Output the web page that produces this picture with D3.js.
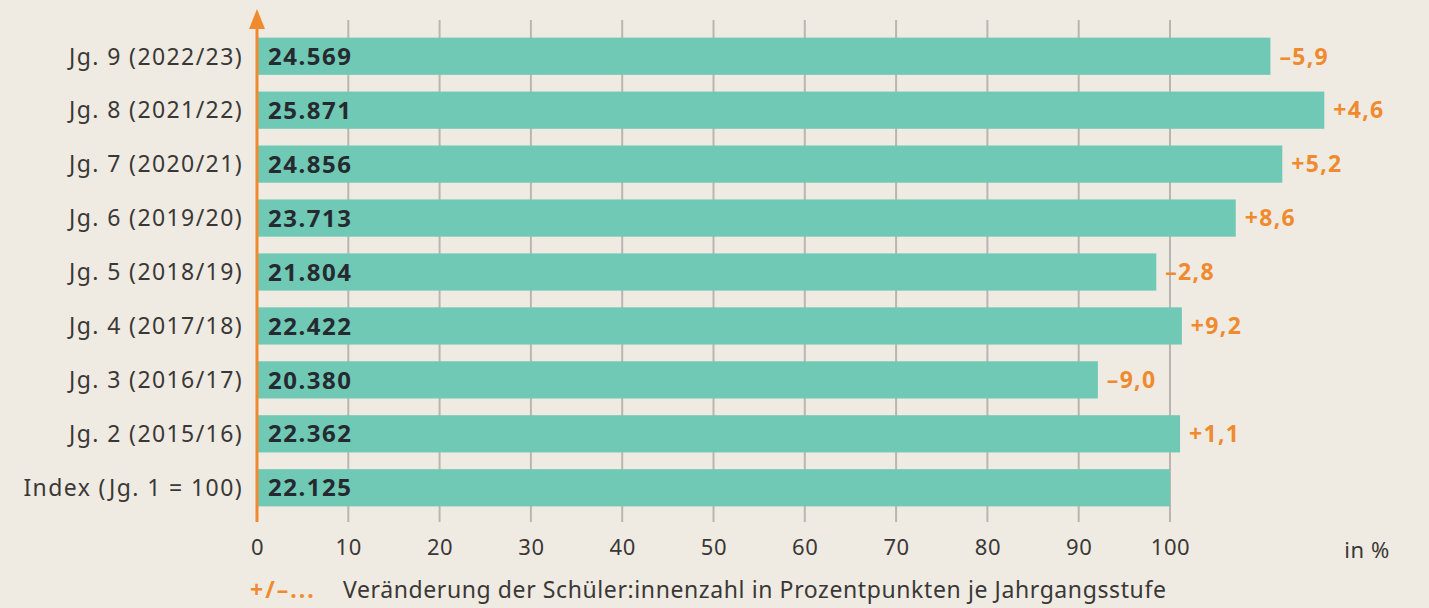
<!DOCTYPE html>
<html>
<head>
<meta charset="utf-8">
<script src="https://cdn.jsdelivr.net/npm/d3@7"></script>
<style>
  html, body { margin: 0; padding: 0; background: #efebe2; }
  svg { display: block; font-family: "Noto Sans", "Open Sans", sans-serif; }
  .grid line { stroke: #b9b6b2; stroke-width: 2; }
  .cat { fill: #3a3836; font-size: 23px; letter-spacing: 1.4px; }
  .tick-lbl { fill: #3a3836; font-size: 22px; letter-spacing: 0.6px; }
  .val { fill: #262a30; font-size: 24px; font-weight: 700; letter-spacing: 1.5px; }
  .chg { fill: #ef8a2e; font-size: 23px; font-weight: 700; letter-spacing: 1.3px; }
</style>
</head>
<body>
<script>
// categories, top to bottom
const categories = [
  "Jg. 9 (2022/23)", "Jg. 8 (2021/22)", "Jg. 7 (2020/21)", "Jg. 6 (2019/20)",
  "Jg. 5 (2018/19)", "Jg. 4 (2017/18)", "Jg. 3 (2016/17)", "Jg. 2 (2015/16)",
  "Index (Jg. 1 = 100)"
];
// bar length in % of index
const percent = [111.0, 116.9, 112.3, 107.2, 98.5, 101.3, 92.1, 101.1, 100];
// student counts shown inside bars
const counts = ["24.569", "25.871", "24.856", "23.713", "21.804", "22.422", "20.380", "22.362", "22.125"];
// change in percentage points
const changes = ["\u20135,9", "+4,6", "+5,2", "+8,6", "\u20132,8", "+9,2", "\u20139,0", "+1,1", ""];
const ticks = [0, 10, 20, 30, 40, 50, 60, 70, 80, 90, 100];

const width = 1429, height = 608;
const svg = d3.select("body").append("svg")
  .attr("width", width).attr("height", height);

const x = d3.scaleLinear().domain([0, 100]).range([257, 1170]);
const y = d3.scaleBand().domain(categories).range([29, 515]).paddingInner(0.31).paddingOuter(0.16);

// grid lines
svg.append("g").attr("class", "grid")
  .selectAll("line").data(ticks.slice(1)).enter().append("line")
  .attr("x1", d => x(d)).attr("x2", d => x(d))
  .attr("y1", 20).attr("y2", 522);

// bars
svg.append("g").selectAll("rect")
  .data(categories).enter().append("rect")
  .attr("x", x(0))
  .attr("y", d => y(d))
  .attr("width", (d, i) => x(percent[i]) - x(0))
  .attr("height", y.bandwidth())
  .attr("fill", "#6fc9b4");

// counts inside bars
svg.append("g").selectAll("text")
  .data(categories).enter().append("text")
  .attr("class", "val")
  .attr("x", x(0) + 11)
  .attr("y", d => y(d) + y.bandwidth() / 2)
  .attr("dy", "0.36em")
  .text((d, i) => counts[i]);

// changes after bars
svg.append("g").selectAll("text")
  .data(categories).enter().append("text")
  .attr("class", "chg")
  .attr("x", (d, i) => x(percent[i]) + 9)
  .attr("y", d => y(d) + y.bandwidth() / 2)
  .attr("dy", "0.36em")
  .text((d, i) => changes[i]);

// category labels
svg.append("g").selectAll("text")
  .data(categories).enter().append("text")
  .attr("class", "cat")
  .attr("x", 243)
  .attr("y", d => y(d) + y.bandwidth() / 2)
  .attr("dy", "0.36em")
  .attr("text-anchor", "end")
  .text(d => d);

// x axis tick labels
const axis = d3.axisBottom(x).tickValues(ticks).tickSize(0).tickPadding(0);
const ax = svg.append("g").attr("transform", "translate(0,539)").call(axis);
ax.select(".domain").remove();
ax.selectAll("text").attr("class", "tick-lbl").attr("fill", null)
  .style("font-size", "22px").style("font-family", "'Noto Sans', sans-serif");

svg.append("text").attr("class", "tick-lbl")
  .attr("x", 1390).attr("y", 558).attr("text-anchor", "end").text("in %");

// orange vertical axis with arrow
svg.append("line")
  .attr("x1", x(0)).attr("x2", x(0)).attr("y1", 18).attr("y2", 522)
  .attr("stroke", "#ef8a2e").attr("stroke-width", 3);
svg.append("path")
  .attr("d", `M${x(0)},9 L${x(0) - 8},29 L${x(0) + 8},29 Z`)
  .attr("fill", "#ef8a2e");

// footnote
svg.append("text").attr("class", "chg")
  .attr("x", 250).attr("y", 598).style("font-size", "23px").style("letter-spacing", "2px").text("+/\u2013...");
svg.append("text").attr("class", "tick-lbl")
  .attr("x", 343).attr("y", 598).style("font-size", "23px").style("letter-spacing", "0.6px")
  .text("Veränderung der Schüler:innenzahl in Prozentpunkten je Jahrgangsstufe");
</script>
</body>
</html>
